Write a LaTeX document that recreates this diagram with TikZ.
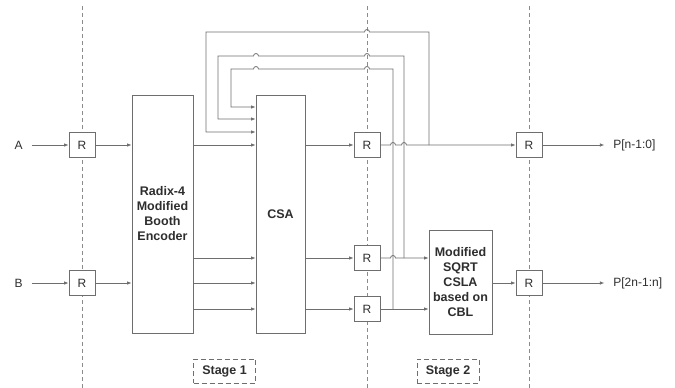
\documentclass[tikz,border=0pt]{standalone}
\usepackage{fontspec}
\setmainfont{Liberation Sans}
\usetikzlibrary{positioning,arrows.meta}
\usepackage{xcolor}
\definecolor{wire}{HTML}{6E6E6E}
\definecolor{ink}{HTML}{2E2E2E}

\begin{document}
\begin{tikzpicture}[
  x=1pt, y=-1pt,
  font=\fontsize{12}{15}\selectfont, text=ink,
  >={Latex[length=4.5pt,width=3.5pt]},
  block/.style={draw=wire, line width=0.8pt, fill=white, align=center, inner sep=0pt,
                font=\fontsize{12.5}{15}\selectfont\bfseries},
  reg/.style={draw=wire, line width=0.8pt, fill=white, inner sep=0pt,
              minimum width=26pt, minimum height=25pt},
  io/.style={inner sep=9pt, outer sep=0pt},
  stagebox/.style={draw=wire, line width=0.8pt, dash pattern=on 5pt off 3pt,
                   minimum width=62pt, minimum height=24pt, font=\fontsize{12.5}{15}\selectfont\bfseries},
  stageline/.style={draw=wire!80, line width=0.8pt, dash pattern=on 4pt off 3pt},
  flow/.style={->, draw=wire, line width=0.8pt}
]
\useasboundingbox (0,0) rectangle (675,388);

% stage borders
\foreach \x in {82,367,529} \draw[stageline] (\x,6) -- (\x,388);

\node[reg] (rA) at (82,145) {R};
\node[reg] (rB) at (82,283) {R};
\node[block, minimum width=61pt, minimum height=238pt] (booth) at (162.5,214)
  {Radix-4\\Modified\\Booth\\Encoder};
\node[block, minimum width=49pt, minimum height=238pt] (csa) at (280.5,214) {CSA};
\node[reg] (r1) at (367,145) {R};
\node[reg] (r2) at (367,258) {R};
\node[reg] (r3) at (367,309) {R};
\node[block, minimum width=63pt, minimum height=104pt] (csla) at (460.5,282)
  {Modified\\SQRT\\CSLA\\based on\\CBL};
\node[reg] (rP1) at (529,145) {R};
\node[reg] (rP2) at (529,283) {R};

\node[io, left=37pt of rA] (inA) {A};
\node[io, left=37pt of rB] (inB) {B};
\node[io, right=62pt of rP1] (outL) {P[n-1:0]};
\node[io, right=62pt of rP2] (outH) {P[2n-1:n]};

\node[stagebox] (st1) at (224.5,371) {Stage 1};
\node[stagebox] (st2) at (448,371) {Stage 2};

% inputs
\draw[flow] (inA) -- (rA);
\draw[flow] (inB) -- (rB);
\draw[flow] (rA) -- (rA -| booth.west);
\draw[flow] (rB) -- (rB -| booth.west);

% encoder to CSA
\draw[flow] (booth.east |- rA) -- (csa.west |- rA);
\draw[flow] (booth.east |- r2) -- (csa.west |- r2);
\draw[flow] (booth.east |- rB) -- (csa.west |- rB);
\draw[flow] (booth.east |- r3) -- (csa.west |- r3);

% CSA to stage 2
\draw[flow] (csa.east |- r1) -- (r1);
\draw[flow] (csa.east |- r2) -- (r2);
\draw[flow] (csa.east |- r3) -- (r3);

\draw[flow] (r1) -- (390.5,145) arc[start angle=180, end angle=360, radius=2.5]
  -- (401.5,145) arc[start angle=180, end angle=360, radius=2.5] -- (rP1);
\draw[flow] (r2) -- (390.5,258) arc[start angle=180, end angle=360, radius=2.5]
  -- (csla.west |- r2);
\draw[flow] (r3) -- (csla.west |- r3);
\draw[flow] (csla.east |- rP2) -- (rP2);

% outputs
\draw[flow] (rP1) -- (outL);
\draw[flow] (rP2) -- (outH);

% feedback into CSA
\coordinate (t1) at (429,145);
\coordinate (t2) at (404,258);
\coordinate (t3) at (393,309);
\coordinate (k1) at (206,132);
\coordinate (k2) at (218,119);
\coordinate (k3) at (231,107);

\draw[flow] (t1) -- (429,32) -- (369.5,32) arc[start angle=0, end angle=-180, radius=2.5]
  -- (206,32) -- (k1) -- (k1 -| csa.west);
\draw[flow] (t2) -- (404,56) -- (369.5,56) arc[start angle=0, end angle=-180, radius=2.5]
  -- (258.5,56) arc[start angle=0, end angle=-180, radius=2.5]
  -- (218,56) -- (k2) -- (k2 -| csa.west);
\draw[flow] (t3) -- (393,69) -- (369.5,69) arc[start angle=0, end angle=-180, radius=2.5]
  -- (258.5,69) arc[start angle=0, end angle=-180, radius=2.5]
  -- (231,69) -- (k3) -- (k3 -| csa.west);

\end{tikzpicture}
\end{document}
